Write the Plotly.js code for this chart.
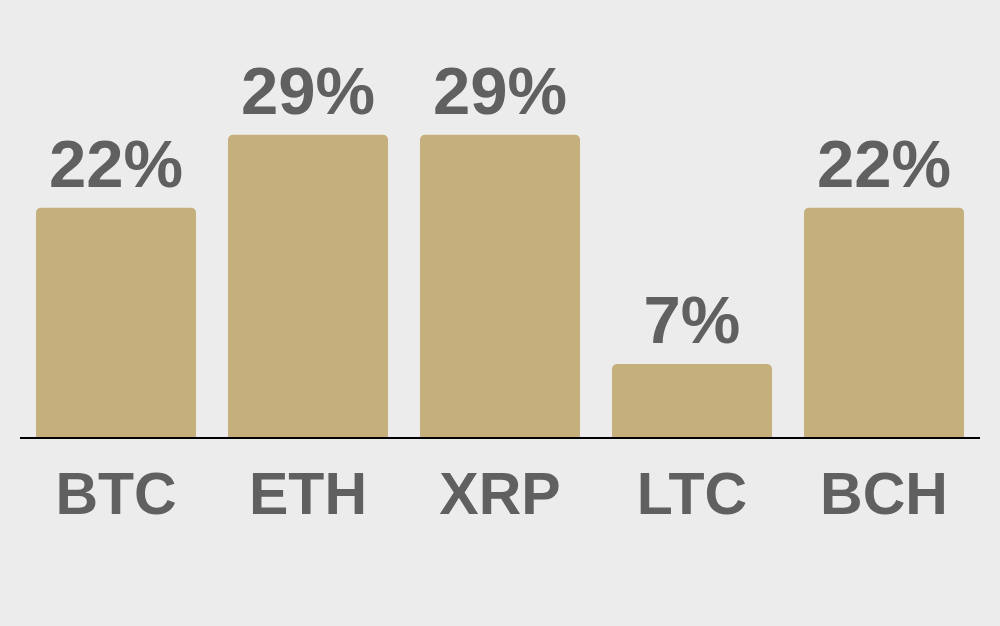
<!DOCTYPE html>
<html>
<head>
<meta charset="utf-8">
<script src="https://cdn.plot.ly/plotly-3.0.1.min.js"></script>
<style>
html,body{margin:0;padding:0;background:#ececec;}
#chart{width:1000px;height:626px;}
</style>
</head>
<body>
<div id="chart"></div>
<script>
const categories = ["BTC", "ETH", "XRP", "LTC", "BCH"];
const shares = [22, 29, 29, 7, 22];
const labels = shares.map(v => v + "%");

const bars = {
  type: "bar",
  x: categories,
  y: shares,
  marker: {color: "#c5b07d", cornerradius: 5},
  hoverinfo: "none"
};

const valueLabels = {
  type: "scatter",
  mode: "markers+text",
  x: categories,
  y: shares,
  text: labels,
  textposition: "top center",
  cliponaxis: false,
  marker: {size: 5, opacity: 0},
  textfont: {family: "Liberation Sans, Arial, sans-serif", size: 67, color: "#606060", weight: "bold"},
  hoverinfo: "none"
};

const layout = {
  width: 1000,
  height: 626,
  margin: {l: 20, r: 20, t: 20, b: 189},
  paper_bgcolor: "#ececec",
  plot_bgcolor: "#ececec",
  bargap: 0.1667,
  showlegend: false,
  font: {family: "Liberation Sans, Arial, sans-serif", color: "#606060"},
  xaxis: {
    showline: true,
    linecolor: "#000000",
    linewidth: 2,
    ticks: "",
    showgrid: false,
    zeroline: false,
    tickfont: {family: "Liberation Sans, Arial, sans-serif", size: 59, color: "#606060", weight: "bold"},
    ticklabelstandoff: 4
  },
  yaxis: {
    range: [0, 40],
    visible: false,
    showgrid: false,
    zeroline: false,
    fixedrange: true
  }
};

Plotly.newPlot("chart", [bars, valueLabels], layout, {displayModeBar: false, staticPlot: true});
</script>
</body>
</html>
